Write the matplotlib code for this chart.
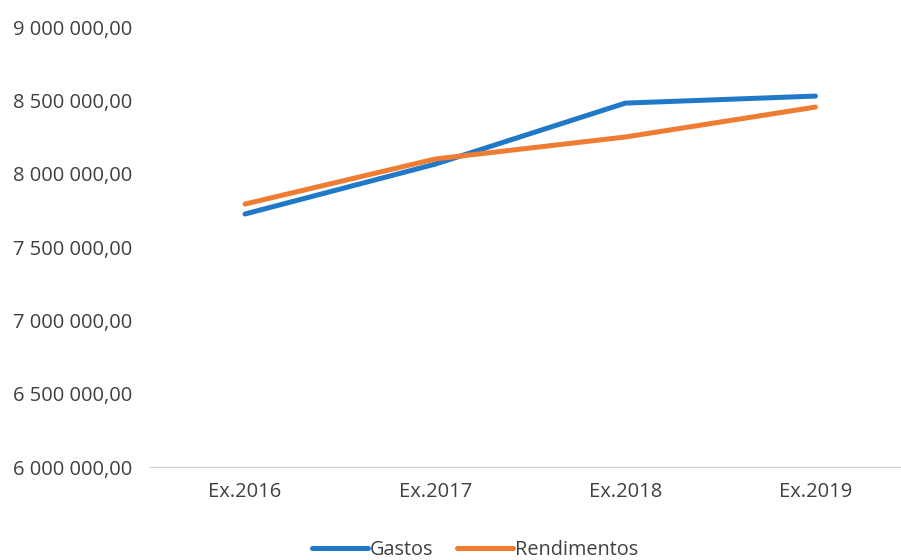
import matplotlib
matplotlib.use("Agg")
import matplotlib.pyplot as plt
from matplotlib.ticker import FuncFormatter

categories = ["Ex.2016", "Ex.2017", "Ex.2018", "Ex.2019"]
gastos = [7725000, 8065000, 8481000, 8529000]
rendimentos = [7793000, 8100000, 8250000, 8454000]
y_ticks = [6000000, 6500000, 7000000, 7500000, 8000000, 8500000, 9000000]

plt.rcParams['font.family'] = ['Open Sans', 'DejaVu Sans']

fig = plt.figure(figsize=(9.01, 5.6), dpi=100)
ax = fig.add_axes([150/901, (560-467)/560, 751/901, (467-27)/560])

x = list(range(len(categories)))
ax.plot(x, gastos, color="#1F78C8", lw=3.6, solid_capstyle="round", label="Gastos")
ax.plot(x, rendimentos, color="#EE7D33", lw=3.6, solid_capstyle="round", label="Rendimentos")

ax.set_xlim(-0.5, 3.45)
ax.set_ylim(6000000, 9000000)
ax.set_yticks(y_ticks)

def fmt(v, pos):
    s = f"{v:,.2f}"
    ip, dp = s.split(".")
    return ip.replace(",", " ") + "," + dp
ax.yaxis.set_major_formatter(FuncFormatter(fmt))
ax.set_xticks(x)
ax.set_xticklabels(categories)

for sp in ["top", "right", "left"]:
    ax.spines[sp].set_visible(False)
ax.spines["bottom"].set_color("#D0D0D0")
ax.spines["bottom"].set_linewidth(0.9)
ax.tick_params(axis="both", length=0, labelsize=14.5, colors="#404040")
ax.tick_params(axis="y", pad=13)
ax.tick_params(axis="x", pad=11)

leg = fig.legend(loc="center", bbox_to_anchor=(475/901, 1 - 550/560), ncol=2,
                 frameon=False, fontsize=14.3, handlelength=2.8, handletextpad=0.1,
                 columnspacing=1.2)
for t in leg.get_texts():
    t.set_color("#404040")

fig.savefig("out.png", dpi=100)
